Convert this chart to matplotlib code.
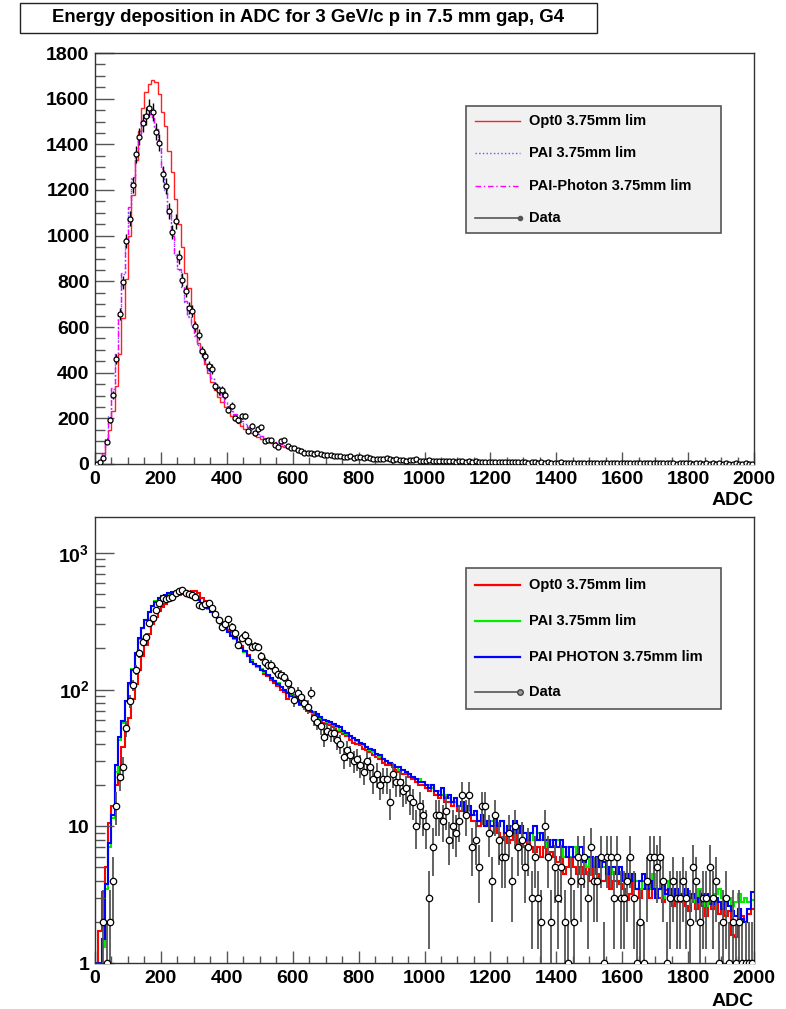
import numpy as np
import matplotlib.pyplot as plt
from matplotlib.patches import Rectangle
from matplotlib.ticker import MultipleLocator, FixedLocator, NullFormatter

plt.rcParams['font.family'] = ['Liberation Sans', 'DejaVu Sans']
plt.rcParams['font.weight'] = 'bold'
plt.rcParams['mathtext.fontset'] = 'custom'
plt.rcParams['mathtext.rm'] = 'Liberation Sans:bold'
plt.rcParams['mathtext.default'] = 'rm'

# 200 bins of 10 ADC counts, 0..2000
edges = np.linspace(0, 2000, 201)
centers = 0.5 * (edges[:-1] + edges[1:])

title = "Energy deposition in ADC for 3 GeV/c p in 7.5 mm gap, G4"

# ---- upper pad: linear scale ----
top_data = [
    2, 8, 28, 98, 193, 303, 461, 658, 796, 976,
    1074, 1220, 1356, 1434, 1493, 1525, 1558, 1540, 1455, 1408,
    1269, 1217, 1108, 1016, 1064, 908, 808, 757, 683, 669,
    603, 566, 493, 474, 430, 416, 342, 322, 322, 303,
    237, 255, 202, 193, 210, 210, 145, 168, 135, 152,
    160, 100, 105, 105, 85, 76, 100, 105, 78, 69,
    69, 61, 55, 48, 50, 47, 45, 48, 42, 40,
    38, 40, 36, 33, 35, 30, 32, 34, 28, 30,
    29, 27, 30, 25, 22, 20, 24, 21, 26, 20,
    18, 22, 17, 19, 15, 18, 16, 20, 14, 15,
    14, 16, 13, 15, 12, 14, 11, 13, 12, 10,
    12, 11, 10, 12, 9, 11, 10, 9, 10, 8,
    9, 10, 8, 9, 7, 9, 8, 7, 8, 7,
    8, 6, 7, 7, 6, 8, 6, 7, 5, 6,
    6, 7, 5, 6, 6, 5, 6, 4, 5, 6,
    5, 4, 5, 5, 4, 5, 4, 5, 3, 4,
    4, 5, 3, 4, 4, 3, 4, 4, 3, 5,
    3, 4, 3, 3, 4, 3, 2, 4, 3, 3,
    3, 2, 3, 3, 2, 4, 2, 3, 2, 3,
    2, 3, 2, 2, 3, 2, 2, 3, 1, 2,
]
top_opt0 = [
    3, 8, 40, 94, 150, 230, 340, 480, 640, 810,
    1000, 1180, 1330, 1460, 1560, 1630, 1665, 1680, 1672, 1620,
    1540, 1481, 1371, 1277, 1159, 1049, 950, 838, 772, 660,
    603, 530, 487, 440, 400, 360, 325, 295, 270, 248,
    228, 210, 194, 180, 167, 155, 144, 134, 125, 117,
    110, 103, 97, 92, 87, 82, 78, 74, 70, 67,
    63, 60, 57, 55, 52, 50, 48, 46, 44, 42,
    40, 39, 37, 36, 35, 33, 32, 31, 30, 29,
    28, 27, 26, 26, 25, 24, 23, 23, 22, 21,
    21, 20, 20, 19, 19, 18, 18, 17, 17, 16,
    16, 16, 15, 15, 15, 14, 14, 14, 13, 13,
    13, 13, 12, 12, 12, 11, 11, 11, 11, 10,
    10, 10, 10, 10, 9, 9, 9, 9, 9, 8,
    8, 8, 8, 8, 8, 7, 7, 7, 7, 7,
    7, 7, 6, 6, 6, 6, 6, 6, 6, 6,
    5, 5, 5, 5, 5, 5, 5, 5, 5, 5,
    5, 4, 4, 4, 4, 4, 4, 4, 4, 4,
    4, 4, 4, 4, 3, 3, 3, 3, 3, 3,
    3, 3, 3, 3, 3, 3, 3, 3, 3, 3,
    3, 3, 3, 2, 2, 2, 2, 2, 2, 2,
]
top_pai = [
    3, 15, 45, 110, 210, 330, 480, 660, 830, 990,
    1120, 1250, 1360, 1440, 1500, 1530, 1540, 1520, 1470, 1400,
    1290, 1200, 1100, 1000, 920, 850, 780, 710, 650, 600,
    565, 525, 485, 445, 410, 378, 348, 320, 295, 272,
    252, 233, 216, 200, 186, 173, 161, 150, 140, 131,
    123, 116, 109, 103, 97, 92, 87, 82, 78, 74,
    70, 66, 63, 60, 57, 54, 52, 49, 47, 45,
    43, 41, 39, 38, 36, 35, 33, 32, 31, 30,
    29, 28, 27, 26, 25, 24, 23, 22, 22, 21,
    20, 20, 19, 18, 18, 17, 17, 16, 16, 15,
    15, 15, 14, 14, 14, 13, 13, 13, 12, 12,
    12, 12, 11, 11, 11, 11, 10, 10, 10, 10,
    10, 9, 9, 9, 9, 9, 8, 8, 8, 8,
    8, 8, 7, 7, 7, 7, 7, 7, 7, 6,
    6, 6, 6, 6, 6, 6, 6, 5, 5, 5,
    5, 5, 5, 5, 5, 5, 5, 4, 4, 4,
    4, 4, 4, 4, 4, 4, 4, 4, 4, 4,
    4, 3, 3, 3, 3, 3, 3, 3, 3, 3,
    3, 3, 3, 3, 3, 3, 3, 3, 3, 3,
    3, 3, 3, 3, 2, 2, 2, 2, 2, 2,
]
top_paiph = [
    2, 14, 48, 112, 205, 335, 485, 655, 835, 985,
    1125, 1255, 1355, 1445, 1505, 1525, 1535, 1525, 1465, 1395,
    1295, 1205, 1095, 1005, 915, 855, 775, 715, 645, 605,
    560, 520, 488, 442, 412, 375, 350, 318, 297, 270,
    254, 231, 218, 199, 188, 171, 163, 149, 141, 130,
    124, 115, 110, 102, 98, 91, 88, 81, 79, 73,
    71, 65, 64, 59, 58, 53, 53, 48, 48, 44,
    44, 40, 40, 37, 37, 34, 34, 31, 32, 29,
    30, 27, 28, 25, 26, 23, 24, 21, 23, 20,
    21, 19, 20, 17, 19, 16, 18, 15, 17, 14,
    16, 14, 15, 13, 15, 12, 14, 12, 13, 11,
    13, 11, 12, 10, 12, 10, 11, 9, 11, 9,
    10, 9, 10, 8, 10, 8, 9, 8, 9, 7,
    9, 7, 8, 7, 8, 6, 8, 6, 7, 6,
    7, 6, 7, 5, 6, 5, 6, 5, 6, 5,
    6, 4, 5, 4, 5, 4, 5, 4, 5, 4,
    5, 4, 4, 4, 4, 3, 4, 3, 4, 3,
    4, 3, 4, 3, 4, 3, 3, 3, 3, 3,
    3, 3, 3, 2, 3, 2, 3, 2, 3, 2,
    3, 2, 3, 2, 2, 2, 2, 2, 2, 2,
]

# ---- lower pad: log scale ----
low_data = [
    0, 0, 2, 1, 2, 4, 14, 23, 27, 52,
    82, 108, 139, 185, 224, 244, 305, 332, 380, 427,
    465, 457, 470, 478, 510, 526, 534, 505, 500, 490,
    473, 415, 406, 420, 427, 393, 360, 323, 289, 300,
    327, 289, 260, 212, 240, 251, 225, 206, 210, 206,
    175, 160, 151, 151, 139, 131, 128, 124, 111, 100,
    84, 94, 89, 80, 75, 95, 62, 58, 54, 45,
    50, 48, 48, 43, 40, 32, 36, 33, 30, 31,
    28, 25, 30, 27, 22, 24, 20, 22, 22, 15,
    24, 21, 21, 18, 19, 16, 15, 10, 14, 12,
    10, 3, 7, 12, 12, 11, 13, 8, 10, 9,
    11, 17, 12, 17, 7, 8, 5, 14, 14, 9,
    4, 12, 8, 6, 6, 9, 4, 10, 7, 8,
    5, 7, 3, 6, 3, 2, 10, 6, 2, 5,
    3, 5, 2, 1, 4, 2, 6, 4, 6, 3,
    7, 4, 4, 6, 1, 6, 6, 3, 6, 3,
    3, 4, 6, 3, 1, 2, 1, 4, 6, 6,
    5, 6, 4, 1, 3, 4, 3, 3, 4, 3,
    2, 5, 4, 2, 3, 3, 5, 3, 4, 1,
    2, 3, 1, 2, 1, 2, 1, 1, 1, 1,
]
low_opt0 = [
    1, 1.7, 3.3, 5, 10.5, 14, 20, 26, 38, 50,
    62, 86, 110, 140, 175, 212, 255, 300, 340, 378,
    405, 425, 450, 475, 490, 495, 500, 508, 518, 525,
    530, 510, 470, 445, 420, 400, 365, 330, 305, 290,
    275, 262, 238, 222, 208, 193, 178, 165, 155, 146,
    138, 131, 126, 118, 112, 106, 100, 96, 85, 90,
    85, 82, 77, 74, 70, 68, 64, 62, 59, 57,
    56, 55, 53, 50, 49, 47, 46, 43, 41, 40,
    39, 37, 36, 35, 33, 32, 31, 29, 28, 28,
    27, 26, 25, 24, 24, 23, 22, 21, 20, 20,
    19, 18, 19, 17, 16, 17, 15, 15, 14, 15,
    13, 13, 12, 13, 11, 11, 10, 11, 10, 10,
    9, 10, 9, 8, 9, 7.5, 8, 9, 7, 8,
    7, 8, 7, 6.5, 7, 6, 7, 6, 6.5, 6,
    5.5, 6, 4.5, 5, 6, 5, 4.5, 5, 4.5, 5,
    4, 5, 4.5, 4, 4, 4.5, 3.5, 4, 4, 3.8,
    3.5, 2.9, 3.2, 4, 3.5, 3, 3.5, 3.8, 3, 3.5,
    3.2, 3, 2.8, 3.4, 3, 2.6, 3, 2.8, 3.2, 2.6,
    2.4, 2.8, 2.5, 3, 2.6, 2.2, 2.7, 2.5, 2.8, 2.3,
    2.5, 2.2, 2.4, 1.6, 1.55, 2.5, 2.2, 2, 2.3, 2.5,
]
low_pai = [
    1, 1, 1.3, 3.5, 7, 11.5, 25, 43, 57, 82,
    110, 142, 183, 235, 282, 325, 368, 410, 442, 465,
    482, 492, 503, 512, 518, 520, 518, 508, 498, 484,
    466, 450, 430, 410, 390, 368, 348, 330, 303, 283,
    266, 250, 235, 217, 202, 188, 176, 162, 153, 147,
    141, 134, 127, 122, 115, 111, 105, 99, 96, 91,
    87, 83, 80, 76, 72, 70, 67, 65, 62, 60,
    58, 57, 55, 53, 51, 49, 47, 46, 44, 42,
    41, 39, 38, 36, 35, 34, 32, 31, 30, 29,
    28, 27, 26, 26, 25, 24, 23, 22, 22, 21,
    20, 20, 19, 18, 18, 17, 17, 16, 15, 15,
    14, 14, 13, 13, 12, 12, 11, 12, 11, 10,
    11, 10, 10, 11, 9, 10, 10, 9, 9, 10,
    8, 9, 9, 8, 9, 8, 8, 7, 8, 7,
    8, 7, 6, 7, 6, 7, 6, 6, 6, 5,
    6, 5, 5, 6, 5, 5, 4.5, 5, 5, 4.5,
    4.5, 4, 4, 4.5, 4, 3.5, 4, 4, 3.5, 4.5,
    3.5, 3.5, 3, 4, 3.5, 3.2, 3, 3.2, 3, 3,
    3.2, 2.8, 3, 3.5, 3, 2.6, 2.8, 3, 3.2, 3.5,
    3, 2.8, 3, 2.6, 2.8, 3.2, 2.8, 3, 2.8, 2.9,
]
low_paiph = [
    1, 1, 1.5, 3.8, 7.5, 12, 28, 45, 59, 83,
    111, 140, 185, 237, 280, 323, 370, 407, 440, 467,
    480, 490, 505, 515, 520, 522, 520, 510, 500, 485,
    468, 452, 432, 412, 393, 370, 350, 332, 305, 281,
    265, 248, 237, 215, 200, 190, 175, 160, 155, 148,
    140, 136, 128, 121, 116, 110, 104, 100, 95, 90,
    88, 84, 79, 77, 73, 70, 68, 66, 63, 60,
    59, 58, 56, 54, 53, 50, 48, 46, 44, 43,
    41, 40, 38, 37, 36, 34, 33, 31, 30, 29,
    28, 27, 27, 26, 25, 24, 23, 22, 21, 21,
    20, 19, 20, 18, 17, 19, 16, 17, 15, 16,
    14, 15, 13, 14, 12, 13, 11, 12, 10, 11,
    10, 12, 10, 11, 9, 10, 9, 11, 9, 10,
    9, 8, 9, 10, 8, 9, 8, 8, 7, 8,
    7, 8, 7, 6, 7, 6, 6, 7, 5.5, 6,
    6, 5, 6, 5, 5.5, 4.5, 5, 5, 4.5, 5,
    4, 4.5, 4, 4.5, 3.5, 4, 4.5, 3.5, 4, 3.5,
    3, 3.5, 4, 3.2, 3.5, 3, 3.5, 3, 3.2, 3.5,
    3, 3.2, 3, 2.8, 3.2, 3.2, 3, 2.7, 3, 2.8,
    2.5, 3, 2.6, 2.4, 2.2, 2.5, 2.1, 2.0, 2.5, 3.3,
]

top_labels = ["Opt0 3.75mm lim", "PAI 3.75mm lim", "PAI-Photon 3.75mm lim", "Data"]
low_labels = ["Opt0 3.75mm lim", "PAI 3.75mm lim", "PAI PHOTON 3.75mm lim", "Data"]

W, H = 786, 1009
fig = plt.figure(figsize=(W / 100, H / 100), dpi=100)


def px_box(x0, y0, x1, y1):
    # pixel rectangle (origin top-left) -> figure fraction [l, b, w, h]
    return [x0 / W, 1 - y1 / H, (x1 - x0) / W, (y1 - y0) / H]


frame_col = '#333333'
tick_col = '#555555'


def style_axes(ax, ylen_major, ylen_minor):
    for s in ax.spines.values():
        s.set_color(frame_col)
        s.set_linewidth(1.0)
    ax.tick_params(which='both', direction='in', top=False, right=False,
                   colors=tick_col, labelcolor='black', labelsize=14)
    ax.tick_params(axis='x', which='major', length=8.5, width=1.0, pad=5)
    ax.tick_params(axis='x', which='minor', length=4.8, width=1.0)
    ax.tick_params(axis='y', which='major', length=ylen_major, width=1.0, pad=4)
    ax.tick_params(axis='y', which='minor', length=ylen_minor, width=1.0)
    ax.xaxis.set_major_locator(MultipleLocator(200))
    ax.xaxis.set_minor_locator(MultipleLocator(50))
    ax.set_xlim(0, 2000)
    ax.text(1.0, -0.068, 'ADC', transform=ax.transAxes, ha='right', va='top',
            fontsize=14, fontweight='bold')


def draw_data(ax, vals, ms, ecol, elw):
    v = np.asarray(vals, dtype=float)
    m = v > 0
    err = np.sqrt(v[m])
    lo = np.minimum(err, v[m] * 0.999)
    ax.errorbar(centers[m], v[m], yerr=[lo, err], fmt='o', ms=ms,
                mfc='white', mec='black', mew=0.9, ecolor=ecol,
                elinewidth=elw, capsize=0, zorder=5)


def draw_legend(box, rows, entries):
    lax = fig.add_axes(px_box(*box))
    bw, bh = box[2] - box[0], box[3] - box[1]
    lax.set_xlim(0, bw)
    lax.set_ylim(bh, 0)
    lax.axis('off')
    lax.add_patch(Rectangle((0.5, 0.5), bw - 1.5, bh - 1.5, facecolor='#f1f1f1',
                            edgecolor='#555555', lw=1.2))
    for ry, (label, kw) in zip(rows, entries):
        y = ry - box[1]
        lax.plot([10, 55], [y, y], **kw)
        lax.text(64, y, label, va='center', ha='left', fontsize=10.5,
                 fontweight='bold')


# ---- title box ----
fig.patches.append(Rectangle((20 / W, 1 - 33 / H), 577 / W, 30 / H,
                             transform=fig.transFigure, facecolor='white',
                             edgecolor='#222222', lw=1.0))
fig.text(308 / W, 1 - 18 / H, title, ha='center', va='center',
         fontsize=13.4, fontweight='bold')

# ---- upper pad ----
ax1 = fig.add_axes(px_box(95, 53, 754, 464))
ax1.stairs(top_opt0, edges, color='#ff2020', lw=1.0, baseline=None)
ax1.stairs(top_pai, edges, color='#5a5aff', lw=1.0, ls=':', baseline=None)
ax1.stairs(top_paiph, edges, color='#ff00ff', lw=1.0, ls=(0, (4, 2, 1, 2)),
           baseline=None)
draw_data(ax1, top_data, 3.6, 'black', 1.0)
ax1.set_ylim(0, 1800)
ax1.yaxis.set_major_locator(MultipleLocator(200))
ax1.yaxis.set_minor_locator(MultipleLocator(50))
style_axes(ax1, 14, 7)

draw_legend((465, 105, 722, 234), [121, 153, 186, 218], [
    (top_labels[0], dict(color='#ff2020', lw=1.0)),
    (top_labels[1], dict(color='#5a5aff', lw=1.0, ls=':')),
    (top_labels[2], dict(color='#ff00ff', lw=1.0, ls=(0, (4, 2, 1, 2)))),
    (top_labels[3], dict(color='#555555', lw=1.2, marker='o', ms=3,
                         mfc='#555555', mec='#555555', markevery=[1])),
])

# ---- lower pad ----
ax2 = fig.add_axes(px_box(95, 517, 754, 963))
ax2.set_yscale('log')
ax2.stairs(low_opt0, edges, color='#ff0000', lw=1.5, baseline=None)
ax2.stairs(low_pai, edges, color='#00ee00', lw=1.5, baseline=None)
ax2.stairs(low_paiph, edges, color='#0000ff', lw=1.5, baseline=None)
draw_data(ax2, low_data, 4.6, '#555555', 1.3)
ax2.set_ylim(1, 1830)
ax2.yaxis.set_major_locator(FixedLocator([1, 10, 100, 1000]))
ax2.yaxis.set_minor_locator(FixedLocator(
    [m * 10 ** e for e in range(0, 3) for m in range(2, 10)] + [2000]))
ax2.yaxis.set_minor_formatter(NullFormatter())
ax2.set_yticklabels(['1', '10', r'$10^{2}$', r'$10^{3}$'])
style_axes(ax2, 14, 7)
ax2.set_ylim(1, 1830)

draw_legend((465, 567, 722, 710), [585, 621, 657, 692], [
    (low_labels[0], dict(color='#ff0000', lw=1.6)),
    (low_labels[1], dict(color='#00ee00', lw=1.6)),
    (low_labels[2], dict(color='#0000ff', lw=1.6)),
    (low_labels[3], dict(color='#555555', lw=1.2, marker='o', ms=4,
                         mfc='#999999', mec='#444444', markevery=[1])),
])

fig.savefig('out.png', dpi=100)
